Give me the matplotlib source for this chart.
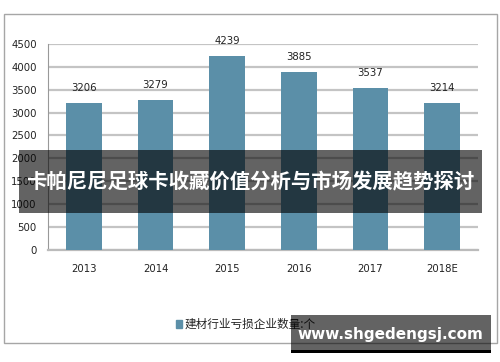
import matplotlib
matplotlib.use("Agg")
import matplotlib.pyplot as plt
from matplotlib.patches import Rectangle

years = ["2013", "2014", "2015", "2016", "2017", "2018E"]
counts = [3206, 3279, 4239, 3885, 3537, 3214]
yticks = [0, 500, 1000, 1500, 2000, 2500, 3000, 3500, 4000, 4500]
legend_label = "建材行业亏损企业数量:个"
banner_text = "卡帕尼尼足球卡收藏价值分析与市场发展趋势探讨"
site_text = "www.shgedengsj.com"

plt.rcParams['font.family'] = ['Noto Sans CJK SC', 'DejaVu Sans']

W, H = 500, 362
fig = plt.figure(figsize=(5, 3.62), dpi=100)

# outer chart border
fig.patches.append(Rectangle((4 / W, 1 - 343 / H), 493 / W, 329 / H,
                             transform=fig.transFigure, fill=False,
                             edgecolor="#a6a6a6", linewidth=1.0))

ax = fig.add_axes([48 / W, 1 - 249.7 / H, 430 / W, 205.7 / H])
x = range(len(years))
ax.bar(x, counts, width=0.5, color="#5b8fa8", zorder=3)
ax.set_xlim(-0.5, len(years) - 0.5)
ax.set_ylim(0, 4500)
ax.set_yticks(yticks)
ax.set_yticklabels([str(t) for t in yticks], fontsize=7.3, color="#222222",
                   family="DejaVu Sans")
ax.set_xticks(list(x))
ax.set_xticklabels(years, fontsize=7.3, color="#222222", family="DejaVu Sans")
ax.tick_params(axis="both", length=0, pad=8)
ax.tick_params(axis="x", pad=10)
ax.grid(axis="y", color="#c4c4c4", linewidth=1.6, zorder=0)
for s in ["top", "right"]:
    ax.spines[s].set_visible(False)
ax.spines["left"].set_color("#999999")
ax.spines["bottom"].set_color("#bbbbbb")
ax.spines["bottom"].set_linewidth(1.6)
for i, v in enumerate(counts):
    ax.annotate(str(v), (i, v), xytext=(0, 7), textcoords="offset points",
                ha="center", va="bottom", fontsize=7.3, color="#222222",
                family="DejaVu Sans")

# legend
fig.patches.append(Rectangle((176 / W, 1 - 328 / H), 6 / W, 8 / H,
                             transform=fig.transFigure, color="#5b8fa8"))
fig.text(185 / W, 1 - 324 / H, legend_label, fontsize=8.4, va="center",
         ha="left", color="#222222")

# title banner
fig.patches.append(Rectangle((19 / W, 1 - 213 / H), 463 / W, 63 / H,
                             transform=fig.transFigure, facecolor="black",
                             edgecolor="none", alpha=0.61, zorder=10))
fig.text(250 / W, 1 - 182 / H, banner_text, fontsize=14.7, fontweight="bold",
         color="white", ha="center", va="center", zorder=11)

# site watermark
fig.patches.append(Rectangle((291 / W, 1 - 350 / H), 200 / W, 35 / H,
                             transform=fig.transFigure, facecolor="black",
                             edgecolor="none", alpha=0.61, zorder=10))
fig.patches.append(Rectangle((291 / W, 1 - 353 / H), 200 / W, 3 / H,
                             transform=fig.transFigure, facecolor="black",
                             edgecolor="none", zorder=10))
fig.text(390 / W, 1 - 335 / H, site_text, fontsize=11, fontweight="bold",
         color="white", ha="center", va="center", zorder=11,
         family="DejaVu Sans")

fig.savefig("out.png", dpi=100)
